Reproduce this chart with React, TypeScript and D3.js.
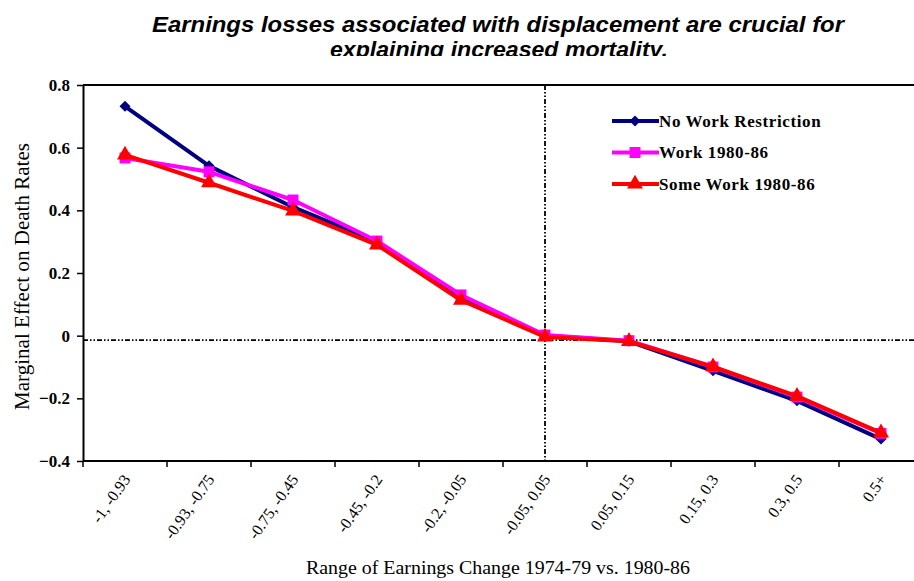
import React, { useEffect, useRef } from 'react';
import * as d3 from 'd3';

const categories = [
  '-1, -0.93', '-0.93, -0.75', '-0.75, -0.45', '-0.45, -0.2', '-0.2, -0.05',
  '-0.05, 0.05', '0.05, 0.15', '0.15, 0.3', '0.3, 0.5', '0.5+',
];
const noWorkRestriction = [0.732, 0.542, 0.41, 0.30, 0.12, 0.0, -0.018, -0.112, -0.208, -0.33];
const work8086 = [0.567, 0.523, 0.433, 0.302, 0.13, 0.002, -0.016, -0.1, -0.196, -0.312];
const someWork8086 = [0.577, 0.488, 0.398, 0.29, 0.113, -0.004, -0.018, -0.099, -0.193, -0.31];
const yTicks = [-0.4, -0.2, 0, 0.2, 0.4, 0.6, 0.8];
const zeroLine = -0.014;

const series = [
  { name: 'No Work Restriction', values: noWorkRestriction, color: '#000080', marker: 'diamond' },
  { name: 'Work 1980-86', values: work8086, color: '#FF00FF', marker: 'square' },
  { name: 'Some Work 1980-86', values: someWork8086, color: '#FF0000', marker: 'triangle' },
];

const serif = '"Liberation Serif", "Times New Roman", serif';

const App: React.FC = () => {
  const svgRef = useRef<SVGSVGElement>(null);

  useEffect(() => {
    if (!svgRef.current) return;
    const svg = d3.select(svgRef.current);
    svg.selectAll('*').remove();

    const width = 914;
    const margin = { top: 85, bottom: 461, left: 83 };

    const x = d3.scaleBand<string>()
      .domain(categories)
      .range([margin.left, margin.left + 84 * categories.length]);
    const cx = (i: number) => (x(categories[i]) as number) + x.bandwidth() / 2;

    const y = d3.scaleLinear().domain([-0.4, 0.8]).range([margin.bottom, margin.top]);

    // title, bottom line cut off
    svg.append('clipPath').attr('id', 'titleClip')
      .append('rect').attr('x', 0).attr('y', 0).attr('width', width).attr('height', 56);
    const title = svg.append('g').attr('clip-path', 'url(#titleClip)')
      .attr('font-family', '"Liberation Sans", Arial, sans-serif')
      .attr('font-weight', 'bold').attr('font-style', 'italic')
      .attr('font-size', 22).attr('text-anchor', 'middle').attr('fill', '#000');
    title.append('text').attr('x', 498).attr('y', 32)
      .attr('textLength', 692).attr('lengthAdjust', 'spacingAndGlyphs')
      .text('Earnings losses associated with displacement are crucial for');
    title.append('text').attr('x', 499).attr('y', 57)
      .attr('textLength', 338).attr('lengthAdjust', 'spacingAndGlyphs')
      .text('explaining increased mortality.');

    // frame: top line, left and bottom axes
    svg.append('line')
      .attr('x1', margin.left).attr('x2', width).attr('y1', margin.top).attr('y2', margin.top)
      .attr('stroke', '#000').attr('stroke-width', 2);

    const yAxis = svg.append('g')
      .attr('transform', `translate(${margin.left},0)`)
      .call(d3.axisLeft(y).tickValues(yTicks).tickSize(6).tickSizeOuter(0).tickFormat(d => d3.format('')(+d)));
    yAxis.select('.domain').attr('stroke-width', 2);
    yAxis.selectAll('.tick line').attr('stroke-width', 1.5);
    yAxis.selectAll('.tick text')
      .attr('font-family', serif)
      .attr('font-weight', 'bold').attr('font-size', 17).attr('fill', '#000').attr('x', -13);

    const xAxis = svg.append('g')
      .attr('transform', `translate(0,${margin.bottom})`)
      .call(d3.axisBottom(x).tickSize(0).tickSizeOuter(0).tickFormat(() => ''));
    xAxis.select('.domain').attr('stroke-width', 2).attr('d', `M${margin.left},0H${width}`);
    xAxis.selectAll('.tick').remove();

    // x tick marks at band edges
    svg.append('g').selectAll('line')
      .data(categories)
      .join('line')
      .attr('x1', d => x(d) as number).attr('x2', d => x(d) as number)
      .attr('y1', margin.bottom).attr('y2', margin.bottom + 6)
      .attr('stroke', '#000').attr('stroke-width', 1.5);

    // rotated category labels
    svg.append('g').selectAll('text')
      .data(categories)
      .join('text')
      .attr('transform', (d, i) => `translate(${cx(i) - 3},${margin.bottom + 12}) rotate(-55)`)
      .attr('text-anchor', 'end')
      .attr('dy', '0.7em')
      .attr('font-family', serif)
      .attr('font-size', 16).attr('fill', '#000')
      .text(d => d);

    // axis titles
    svg.append('text')
      .attr('transform', `translate(22,${(143 + 410) / 2}) rotate(-90)`)
      .attr('text-anchor', 'middle').attr('dy', '0.35em')
      .attr('font-family', serif)
      .attr('font-size', 20).attr('fill', '#000')
      .attr('textLength', 267).attr('lengthAdjust', 'spacingAndGlyphs')
      .text('Marginal Effect on Death Rates');
    svg.append('text')
      .attr('x', 498).attr('y', 574)
      .attr('text-anchor', 'middle')
      .attr('font-family', serif)
      .attr('font-size', 19).attr('fill', '#000')
      .attr('textLength', 384).attr('lengthAdjust', 'spacingAndGlyphs')
      .text('Range of Earnings Change 1974-79 vs. 1980-86');

    // dotted reference lines
    svg.append('line')
      .attr('x1', margin.left).attr('x2', width).attr('y1', y(zeroLine)).attr('y2', y(zeroLine))
      .attr('stroke', '#000').attr('stroke-width', 1.8).attr('stroke-dasharray', '5,2,1.5,2,1.5,2');
    svg.append('line')
      .attr('x1', cx(5)).attr('x2', cx(5)).attr('y1', margin.top).attr('y2', margin.bottom)
      .attr('stroke', '#000').attr('stroke-width', 1.8).attr('stroke-dasharray', '5,2,1.5,2,1.5,2');

    // diamonds are squares turned 45 degrees
    const symbolFor = (m: string) =>
      m === 'diamond' ? d3.symbol(d3.symbolSquare, 60)
        : m === 'square' ? d3.symbol(d3.symbolSquare, 120)
          : d3.symbol(d3.symbolTriangle, 110);
    const rot = (m: string) => (m === 'diamond' ? ' rotate(45)' : '');

    const line = d3.line<number>().x((d, i) => cx(i)).y(d => y(d));

    series.forEach(s => {
      const g = svg.append('g');
      g.append('path')
        .datum(s.values)
        .attr('fill', 'none').attr('stroke', s.color).attr('stroke-width', 4)
        .attr('stroke-linejoin', 'round')
        .attr('d', line);
      g.selectAll('path.pt')
        .data(s.values)
        .join('path')
        .attr('class', 'pt')
        .attr('transform', (d, i) => `translate(${cx(i)},${y(d)})${rot(s.marker)}`)
        .attr('fill', s.color)
        .attr('d', symbolFor(s.marker)() as string);
    });

    // legend
    const legend = svg.append('g');
    series.forEach((s, i) => {
      const ly = 121 + i * 31.5;
      legend.append('line')
        .attr('x1', 612).attr('x2', 659).attr('y1', ly).attr('y2', ly)
        .attr('stroke', s.color).attr('stroke-width', 4);
      legend.append('path')
        .attr('transform', `translate(635,${ly})${rot(s.marker)}`)
        .attr('fill', s.color)
        .attr('d', symbolFor(s.marker)() as string);
      legend.append('text')
        .attr('x', 659).attr('y', ly).attr('dy', '0.35em')
        .attr('font-family', serif)
        .attr('font-weight', 'bold').attr('font-size', 17).attr('fill', '#000')
        .attr('letter-spacing', 0.6)
        .text(s.name);
    });
  }, []);

  return (
    <svg ref={svgRef} width={914} height={581} viewBox="0 0 914 581"
      style={{ position: 'absolute', left: 0, top: 0, background: '#fff' }} />
  );
};

export default App;
